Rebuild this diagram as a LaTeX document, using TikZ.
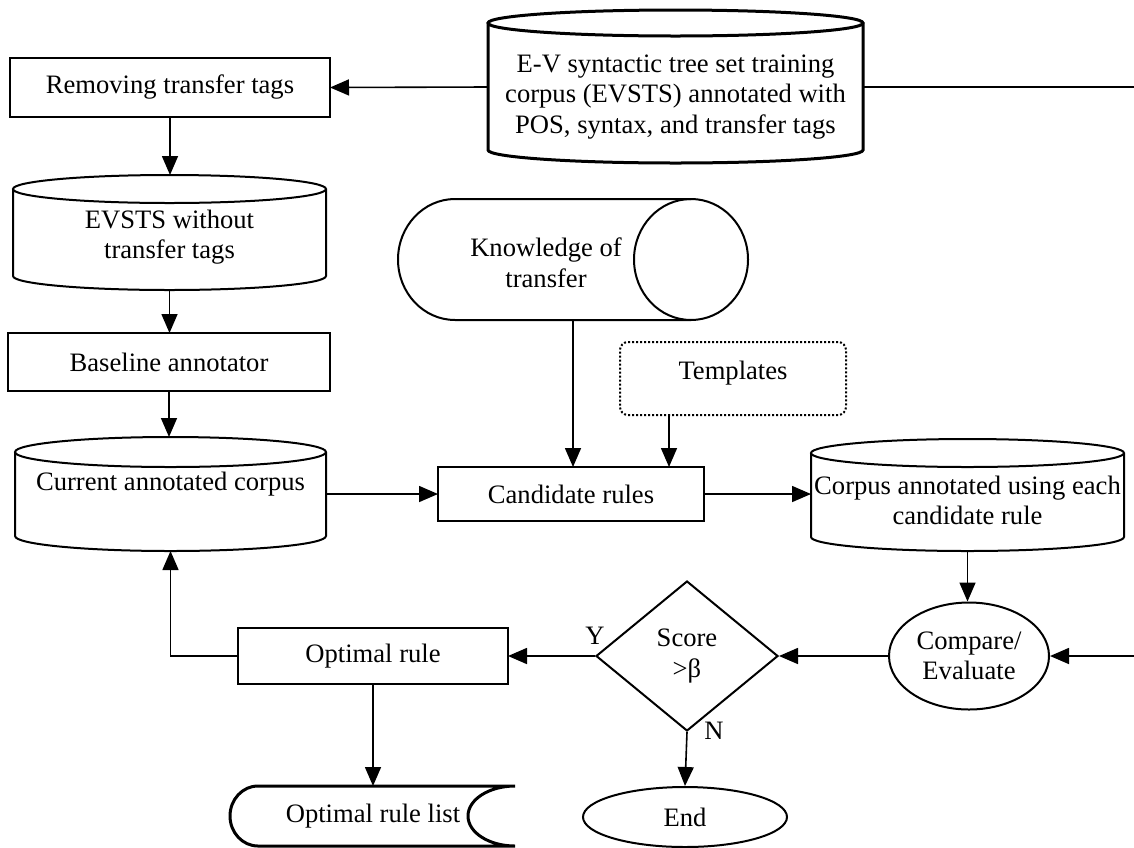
\documentclass[tikz,border=0pt]{standalone}
\usepackage{fontspec}
\setmainfont{Liberation Serif}
\usetikzlibrary{arrows.meta,shapes.geometric,calc}
% cylinder outline: #1 options, #2 L, #3 T, #4 R, #5 B, #6 ry of ellipse (pixel units)
\newcommand\mycyl[6][]{%
  \draw[#1] ({(#2+#4)/2},{#3+#6}) ellipse [x radius={(#4-#2)/2*1pt}, y radius=#6pt]
    (#2,{#3+#6}) -- (#2,{#5-#6}) arc[start angle=180,end angle=360,x radius={(#4-#2)/2*1pt},y radius=#6pt] -- (#4,{#3+#6});}
\begin{document}
\begin{tikzpicture}[x=1pt,y=-1pt,
  every node/.style={font=\fontsize{26.6}{30.5}\selectfont},
  frame/.style={draw, line width=2pt, rectangle, inner sep=0pt, outer sep=0pt},
  anchorbox/.style={rectangle, inner sep=0pt, outer sep=0pt},
  txt/.style={align=center, inner sep=0pt},
  outline/.style={line width=2pt},
  heavy/.style={line width=3pt},
  arr/.style={line width=1.6pt, -{Triangle[length=19pt,width=16pt]}},
  conn/.style={line width=1.6pt},
]
\useasboundingbox (0,0) rectangle (1134,847);

% ---- shapes ----
\node[frame, minimum width=320pt, minimum height=59pt] (rem) at (170,87.5) {Removing transfer tags};

\mycyl[heavy]{488}{10}{863}{163}{13}
\node[anchorbox, minimum width=375pt, minimum height=153pt] (train) at (675.5,87) {};
\node[txt] (traintxt) at (675.5,97) {E-V syntactic tree set training\\corpus (EVSTS) annotated with\\POS, syntax, and transfer tags};

\mycyl[outline]{13}{175}{326}{290}{14}
\node[anchorbox, minimum width=313pt, minimum height=115pt] (evsts) at (169.5,232.5) {};
\node[txt] (evststxt) at (169.5,237) {EVSTS without\\transfer tags};

\node[frame, minimum width=322pt, minimum height=58pt] (base) at (169,362) {Baseline annotator};

\mycyl[outline]{15}{437}{326}{551}{15}
\node[anchorbox, minimum width=311pt, minimum height=114pt] (cur) at (170.5,494) {};
\node[txt] (curtxt) at (170.5,484) {Current annotated corpus};

\draw[outline] (691,199) -- (455,199) arc[start angle=90,end angle=270,x radius=57pt,y radius=60.5pt] -- (691,320);
\draw[outline] (691,259.5) ellipse [x radius=57pt, y radius=60.5pt];
\node[anchorbox, minimum width=350pt, minimum height=121pt] (know) at (573,259.5) {};
\node[txt] (knowtxt) at (546,263) {Knowledge of\\transfer};

\node[draw, line width=2pt, dotted, rounded corners=8pt, minimum width=226pt, minimum height=73pt, inner sep=0pt] (tmpl) at (733,378.5) {};
\node[txt] (tmpltxt) at (733,373) {Templates};

\node[frame, minimum width=266pt, minimum height=54pt] (cand) at (571,494) {Candidate rules};

\mycyl[outline]{811}{439}{1124}{551}{14}
\node[anchorbox, minimum width=313pt, minimum height=112pt] (corp) at (967.5,495) {};
\node[txt] (corptxt) at (967.5,500.5) {Corpus annotated using each\\candidate rule};

\node[draw, ellipse, line width=2pt, minimum width=160pt, minimum height=107pt, inner sep=0pt, align=center] (cmp) at (969,656) {Compare/\\Evaluate};

\node[draw, diamond, line width=2pt, minimum width=182pt, minimum height=150pt, inner sep=0pt, align=center] (dia) at (687,656) {Score\\>β};

\node[frame, minimum width=270pt, minimum height=56pt] (opt) at (373,656) {Optimal rule};

\draw[heavy] (258,786) -- (515,786) arc[start angle=90,end angle=270,x radius=47pt,y radius=30pt] -- (258,846) arc[start angle=270,end angle=90,x radius=28pt,y radius=30pt] -- cycle;
\node[anchorbox, minimum width=285pt, minimum height=60pt] (list) at (372.5,816) {};
\node[txt] (listtxt) at (373,816) {Optimal rule list};

\node[draw, ellipse, line width=2pt, minimum width=204pt, minimum height=60pt, inner sep=0pt] (end) at (685,817) {End};

\node[txt] (ylab) at (595,636) {Y};
\node[txt] (nlab) at (714,731) {N};

% ---- edge coordinates ----
\coordinate (eR1) at (1134,87);
\coordinate (eR2) at (1134,656);

% ---- connectors ----
\draw[arr] (train.west) -- (rem.east);
\draw[conn] (train.east) -- (eR1);
\draw[arr] (rem.south) -- (rem.south |- evsts.north);
\draw[arr] (evsts.south) -- (evsts.south |- base.north);
\draw[arr] (base.south) -- (base.south |- cur.north);
\draw[arr] (cur.east) -- (cand.west);
\draw[arr] (know.south) -- (know.south |- cand.north);
\draw[arr] ([xshift=-64pt]tmpl.south) -- ([xshift=-64pt]tmpl.south |- cand.north);
\draw[arr] (cand.east) -- (cand.east -| corp.west);
\draw[arr] (corp.south) -- (corp.south |- cmp.north);
\draw[arr] (eR2) -- (cmp.east);
\draw[arr] (cmp.west) -- (dia.east);
\draw[arr] (dia.west) -- (opt.east);
\draw[arr] (opt.west) -| (cur.south);
\draw[arr] (opt.south) -- (opt.south |- list.north);
\draw[arr] (dia.south) -- (end.north);
\end{tikzpicture}
\end{document}
